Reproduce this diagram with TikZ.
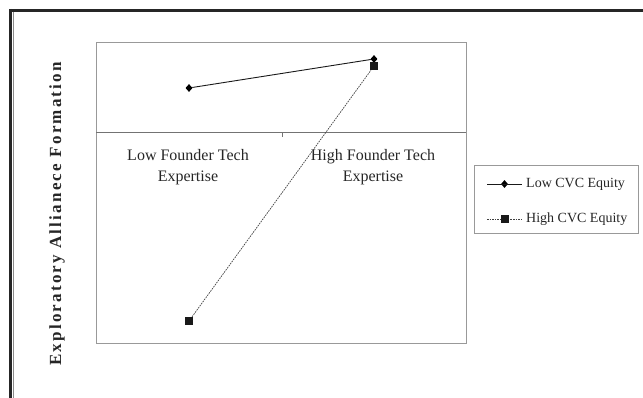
\documentclass[tikz,border=0pt]{standalone}
\usepackage{fontspec}
\setmainfont{Liberation Serif}
\newfontfamily\ylabfont[LetterSpace=13]{Liberation Serif}
\usetikzlibrary{shapes.geometric}
\tikzset{
  frameline/.style={line width=3pt, draw=black!85},
  plotbox/.style={draw=black!40, line width=1pt},
  axisline/.style={draw=black!55, line width=1pt},
  dia/.style={diamond, fill=black, inner sep=0pt, minimum width=7pt, minimum height=8pt},
  sq/.style={rectangle, fill=black!90, inner sep=0pt, minimum size=8pt},
  lowline/.style={draw=black!90, line width=0.9pt},
  highline/.style={draw=black!75, line width=0.7pt, dash pattern=on 1.6pt off 1pt},
  catlabel/.style={font=\fontsize{16}{21}\selectfont, align=center, text=black!85},
  legtext/.style={font=\fontsize{14}{16}\selectfont, anchor=west, text=black!85, inner sep=0pt},
  ylabel/.style={font=\ylabfont\bfseries\fontsize{17}{20}\selectfont, rotate=90, text=black!85}
}
\begin{document}
\begin{tikzpicture}[x=1pt, y=-1pt]
\useasboundingbox (0,0) rectangle (643,398);
% outer frame: heavy rule along the top and the left
\draw[frameline] (9,10.5) -- (643,10.5);
\draw[frameline] (10.5,9) -- (10.5,398);
\draw[draw=black!45, line width=0.8pt] (13.8,12) -- (13.8,398);

% plot area with the category axis
\draw[plotbox] (96,43) rectangle (466,343);
\coordinate (axl) at (96,133);
\coordinate (axr) at (466,133);
\draw[axisline] (axl) -- (axr);
\coordinate (tk1) at (282,133);
\coordinate (tk2) at (282,137);
\draw[axisline] (tk1) -- (tk2);

% category labels
\node[catlabel] (lowcat) at (188,167) {Low Founder Tech\\Expertise};
\node[catlabel] (highcat) at (373,167) {High Founder Tech\\Expertise};

% axis title
\node[ylabel] (ytitle) at (57,214) {Exploratory Allianece Formation};

% data series
\node[dia] (lo1) at (189,88) {};
\node[dia] (lo2) at (374,59) {};
\node[sq] (hi1) at (189,321) {};
\node[sq] (hi2) at (374,66) {};
\draw[lowline] (lo1) -- (lo2);
\draw[highline] (hi1) -- (hi2);

% legend
\draw[plotbox] (474,166) rectangle (638,234);
\coordinate (la) at (487,184);
\coordinate (lb) at (522,184);
\node[dia] (lm) at (504.5,184) {};
\draw[lowline] (la) -- (lb);
\node[legtext] (lt) at (526,184) {Low CVC Equity};
\coordinate (ha) at (487,219);
\coordinate (hb) at (522,219);
\draw[highline] (ha) -- (hb);
\node[sq] (hm) at (504.5,219) {};
\node[legtext] (ht) at (526,219) {High CVC Equity};
\end{tikzpicture}
\end{document}
